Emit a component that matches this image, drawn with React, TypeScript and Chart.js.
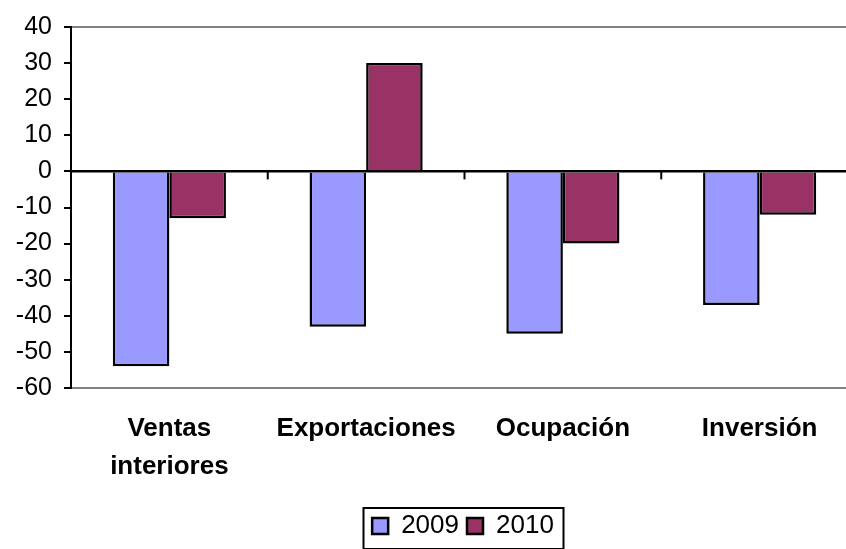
import React, { useEffect, useRef } from 'react';
import { Chart, registerables } from 'chart.js';
Chart.register(...registerables);

const categories: (string | string[])[] = [['Ventas', 'interiores'], 'Exportaciones', 'Ocupación', 'Inversión'];
const series2009 = [-54, -43, -45, -37];
const series2010 = [-13, 30, -20, -12];
const seriesNames = ['2009', '2010'];
const yMin = -60;
const yMax = 40;
const yStep = 10;

const FONT = "'Liberation Sans', Arial, sans-serif";

const categoryTicks = {
  id: 'categoryTicks',
  afterDatasetsDraw(chart: any) {
    const x = chart.scales.x;
    const y = chart.scales.y;
    const y0 = y.getPixelForValue(0);
    const ctx = chart.ctx;
    ctx.save();
    ctx.strokeStyle = '#000';
    ctx.lineWidth = 2;
    ctx.beginPath();
    ctx.moveTo(chart.chartArea.left, y0);
    ctx.lineTo(chart.chartArea.right, y0);
    ctx.stroke();
    const n = chart.data.labels.length;
    for (let i = 1; i <= n; i++) {
      const px = i < n ? (x.getPixelForValue(i - 1) + x.getPixelForValue(i)) / 2 : chart.chartArea.right;
      ctx.beginPath();
      ctx.moveTo(px, y0);
      ctx.lineTo(px, y0 + 8);
      ctx.stroke();
    }
    ctx.restore();
  },
};

const legendBorder = {
  id: 'legendBorder',
  afterDraw(chart: any) {
    const lg = chart.legend;
    if (!lg || !lg.legendHitBoxes || !lg.legendHitBoxes.length) return;
    const boxes = lg.legendHitBoxes;
    const left = Math.min(...boxes.map((b: any) => b.left)) - 9;
    const right = Math.max(...boxes.map((b: any) => b.left + b.width)) + 9;
    const ctx = chart.ctx;
    ctx.save();
    ctx.strokeStyle = '#000';
    ctx.lineWidth = 2;
    ctx.strokeRect(Math.round(left) + 0.5, Math.round(lg.top) + 3, Math.round(right - left), Math.round(lg.bottom - lg.top) - 3);
    ctx.restore();
  },
};

export default function App() {
  const ref = useRef<HTMLCanvasElement | null>(null);

  useEffect(() => {
    document.body.style.margin = '0';
    const canvas = ref.current;
    if (!canvas) return;
    const chart = new Chart(canvas, {
      type: 'bar',
      data: {
        labels: categories,
        datasets: [
          {
            label: seriesNames[0],
            data: series2009,
            backgroundColor: '#9999FF',
            borderColor: '#000',
            borderWidth: 2.5,
          },
          {
            label: seriesNames[1],
            data: series2010,
            backgroundColor: '#993366',
            borderColor: '#000',
            borderWidth: 2.5,
          },
        ],
      },
      options: {
        animation: false,
        responsive: false,
        devicePixelRatio: 1,
        datasets: { bar: { categoryPercentage: 0.575, barPercentage: 1 } },
        layout: { padding: { top: 23, right: 0, left: 0, bottom: 0 } },
        plugins: {
          tooltip: { enabled: false },
          legend: {
            position: 'bottom',
            labels: {
              boxWidth: 16,
              boxHeight: 16,
              padding: 8,
              color: '#000',
              font: { family: FONT, size: 26 },
            },
          },
        },
        scales: {
          x: {
            offset: true,
            grid: { display: false, drawTicks: false },
            border: { display: false },
            ticks: {
              color: '#000',
              font: { family: FONT, size: 26, weight: 'bold', lineHeight: 1.45 },
              padding: 22,
              maxRotation: 0,
              autoSkip: false,
            },
            afterFit: (s: any) => {
              s.height = 117;
            },
          },
          y: {
            min: yMin,
            max: yMax,
            ticks: {
              stepSize: yStep,
              color: '#000',
              font: { family: FONT, size: 25 },
              padding: 12,
            },
            grid: {
              color: (c: any) => {
                const v = c.tick ? c.tick.value : null;
                if (v === 0) return '#000';
                if (v === yMax || v === yMin) return '#808080';
                return 'rgba(0,0,0,0)';
              },
              lineWidth: 2,
              tickColor: '#000',
              tickLength: 7,
            },
            border: { color: '#000', width: 2 },
            afterFit: (s: any) => {
              s.width = 71;
            },
          },
          yRight: {
            type: 'linear',
            position: 'right',
            display: true,
            grid: { display: false, drawTicks: false },
            border: { display: false },
            ticks: { display: false },
            afterFit: (s: any) => {
              s.width = 68;
            },
          },
        },
      },
      plugins: [categoryTicks, legendBorder],
    } as any);
    return () => chart.destroy();
  }, []);

  return (
    <div style={{ width: 846, height: 549, overflow: 'hidden', position: 'relative' }}>
      <canvas ref={ref} width={926} height={549} style={{ display: 'block' }} />
    </div>
  );
}
